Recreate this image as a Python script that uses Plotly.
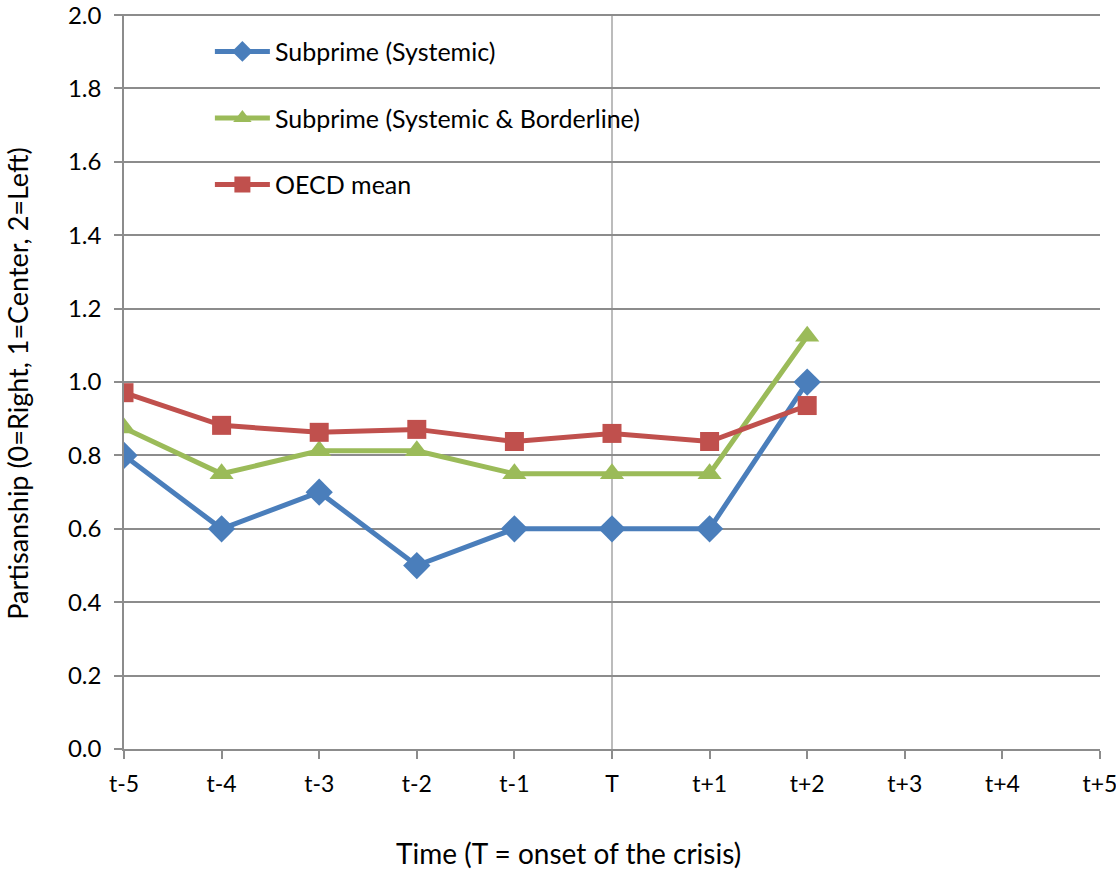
import plotly.graph_objects as go

categories = ["t-5", "t-4", "t-3", "t-2", "t-1", "T", "t+1", "t+2", "t+3", "t+4", "t+5"]
systemic = [0.8, 0.6, 0.7, 0.5, 0.6, 0.6, 0.6, 1.0]
systemic_borderline = [0.875, 0.75, 0.8125, 0.8125, 0.75, 0.75, 0.75, 1.125]
oecd_mean = [0.971, 0.882, 0.863, 0.871, 0.838, 0.860, 0.838, 0.936]
y_ticks = [0.0, 0.2, 0.4, 0.6, 0.8, 1.0, 1.2, 1.4, 1.6, 1.8, 2.0]
x_title = "Time (T = onset of the crisis)"
y_title = "Partisanship (0=Right, 1=Center, 2=Left)"

FONT = "Lato"
GRID = "#8c8c8c"
FS = 24

fig = go.Figure()
series = [
    ("Subprime (Systemic)", systemic, "#4A7EBB", "diamond", 21),
    ("Subprime (Systemic & Borderline)", systemic_borderline, "#9BBB59", "triangle-up", 21),
    ("OECD mean", oecd_mean, "#C0504D", "square", 19),
]
for i, (name, vals, color, sym, size) in enumerate(series):
    fig.add_trace(go.Scatter(
        x=categories[:len(vals)], y=vals, name=name, mode="lines+markers",
        line=dict(color=color, width=5),
        marker=dict(symbol=sym, size=size, color=color),
        legendgroup=f"g{i}",
    ))

fig.add_shape(type="line", xref="x", yref="y", x0="T", x1="T", y0=0, y1=2,
              line=dict(color="#a6a6a6", width=1.5), layer="below")

fig.add_annotation(text=x_title, xref="paper", yref="paper", x=0.455, y=-0.141,
                   xanchor="center", yanchor="middle", showarrow=False,
                   font=dict(family=FONT, size=28, color="black"))
fig.add_annotation(text=y_title, xref="paper", yref="paper", x=-0.1086, y=0.497,
                   xanchor="center", yanchor="middle", showarrow=False, textangle=-90,
                   font=dict(family=FONT, size=27, color="black"))

fig.update_layout(
    width=1116, height=869,
    margin=dict(l=124, r=16, t=14, b=120, autoexpand=False),
    paper_bgcolor="white", plot_bgcolor="white",
    font=dict(family=FONT, size=FS, color="black"),
    showlegend=True,
    legend=dict(x=0.088, y=0.980, xanchor="left", yanchor="top",
                bgcolor="rgba(0,0,0,0)", tracegroupgap=31, itemwidth=55,
                font=dict(family=FONT, size=25)),
    xaxis=dict(
        type="category", categoryorder="array", categoryarray=categories,
        range=[0, 10], showgrid=False, showline=True, linecolor=GRID, linewidth=1.5,
        ticks="outside", ticklen=8, tickcolor=GRID, tickwidth=1.5,
        tickmode="array", tickvals=categories, ticktext=categories,
        tickfont=dict(family=FONT, size=23),
        zeroline=False, ticklabelstandoff=6, automargin=False,
        ticklabeloverflow="allow",
    ),
    yaxis=dict(
        range=[0, 2.003], tickmode="array", tickvals=y_ticks,
        ticktext=[f"{v:.1f}" for v in y_ticks],
        showgrid=True, gridcolor=GRID, gridwidth=1.5,
        showline=True, linecolor=GRID, linewidth=1.5,
        ticks="outside", ticklen=8, tickcolor=GRID, tickwidth=1.5,
        zeroline=False, ticklabelstandoff=8, automargin=False,
        ticklabeloverflow="allow",
    ),
)

fig.write_html("out.html")
